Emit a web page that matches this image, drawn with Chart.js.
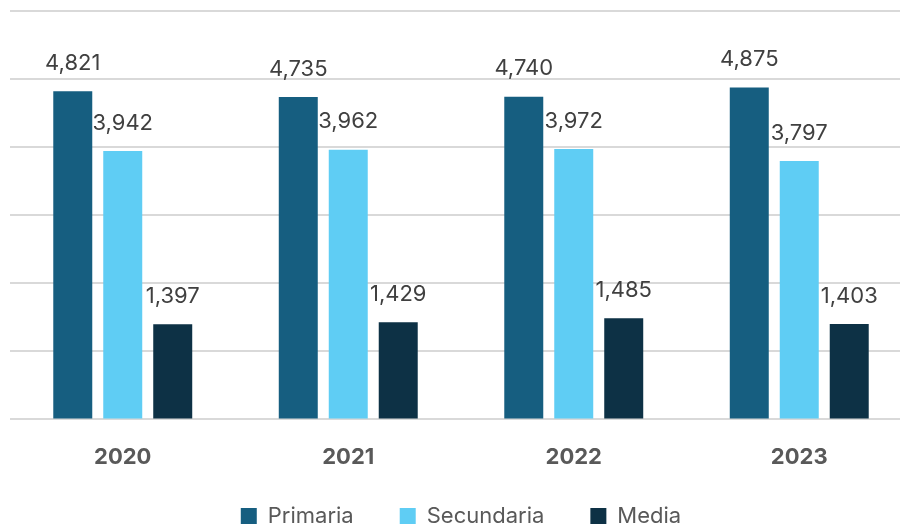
<!DOCTYPE html>
<html>
<head>
<meta charset="utf-8">
<script src="https://cdn.jsdelivr.net/npm/chart.js@4"></script>
<style>
    html, body { margin: 0; padding: 0; background: #fff; overflow: hidden; }
    #wrap { position: absolute; left: 0; top: 0; width: 912px; height: 537px; }
</style>
</head>
<body>
<div id="wrap"><canvas id="chart"></canvas></div>
<script>
// Data
const years = ['2020', '2021', '2022', '2023'];
const primaria = [4821, 4735, 4740, 4875];
const secundaria = [3942, 3962, 3972, 3797];
const media = [1397, 1429, 1485, 1403];

// Colors
const COLORS = {
    primaria: '#165e80',
    secundaria: '#5fcdf4',
    media: '#0d3145',
    grid: '#d9d9d9',
    label: '#404040',
    axis: '#595959'
};

const FONT = 'Inter, "Noto Sans", sans-serif';

// Value labels above each bar
const valueLabels = {
    id: 'valueLabels',
    afterDatasetsDraw(chart) {
        const ctx = chart.ctx;
        ctx.save();
        ctx.font = '22px ' + FONT;
        ctx.fillStyle = COLORS.label;
        ctx.textAlign = 'center';
        ctx.textBaseline = 'bottom';
        chart.data.datasets.forEach((ds, i) => {
            chart.getDatasetMeta(i).data.forEach((bar, j) => {
                ctx.fillText(ds.data[j].toLocaleString('en-US'), bar.x, bar.y - 17);
            });
        });
        ctx.restore();
    }
};

new Chart(document.getElementById('chart'), {
    type: 'bar',
    data: {
        labels: years,
        datasets: [
            { label: 'Primaria', data: primaria, backgroundColor: COLORS.primaria },
            { label: 'Secundaria', data: secundaria, backgroundColor: COLORS.secundaria },
            { label: 'Media', data: media, backgroundColor: COLORS.media }
        ]
    },
    options: {
        responsive: true,
        maintainAspectRatio: false,
        animation: false,
        datasets: {
            bar: { categoryPercentage: 0.665, barPercentage: 0.78 }
        },
        layout: { padding: { left: 10, top: 11, right: 0, bottom: 0 } },
        scales: {
            x: {
                grid: { display: false, drawTicks: false },
                border: { display: false },
                ticks: {
                    color: COLORS.axis,
                    font: { family: FONT, size: 22, weight: 'bold' },
                    padding: 25
                },
                afterFit(scale) {
                    // keep the axis short so the legend sits close, and let labels overflow it
                    scale.height = 39.6;
                    scale._computeLabelArea = () => undefined;
                }
            },
            y: {
                min: 0,
                max: 6000,
                ticks: { display: false, stepSize: 1000 },
                border: { display: false },
                grid: { color: COLORS.grid, lineWidth: 2, drawTicks: false }
            }
        },
        plugins: {
            tooltip: { enabled: false },
            legend: {
                position: 'bottom',
                labels: {
                    color: COLORS.axis,
                    font: { family: FONT, size: 22 },
                    boxWidth: 16,
                    boxHeight: 16,
                    padding: 46
                }
            }
        }
    },
    plugins: [valueLabels]
});
</script>
</body>
</html>
